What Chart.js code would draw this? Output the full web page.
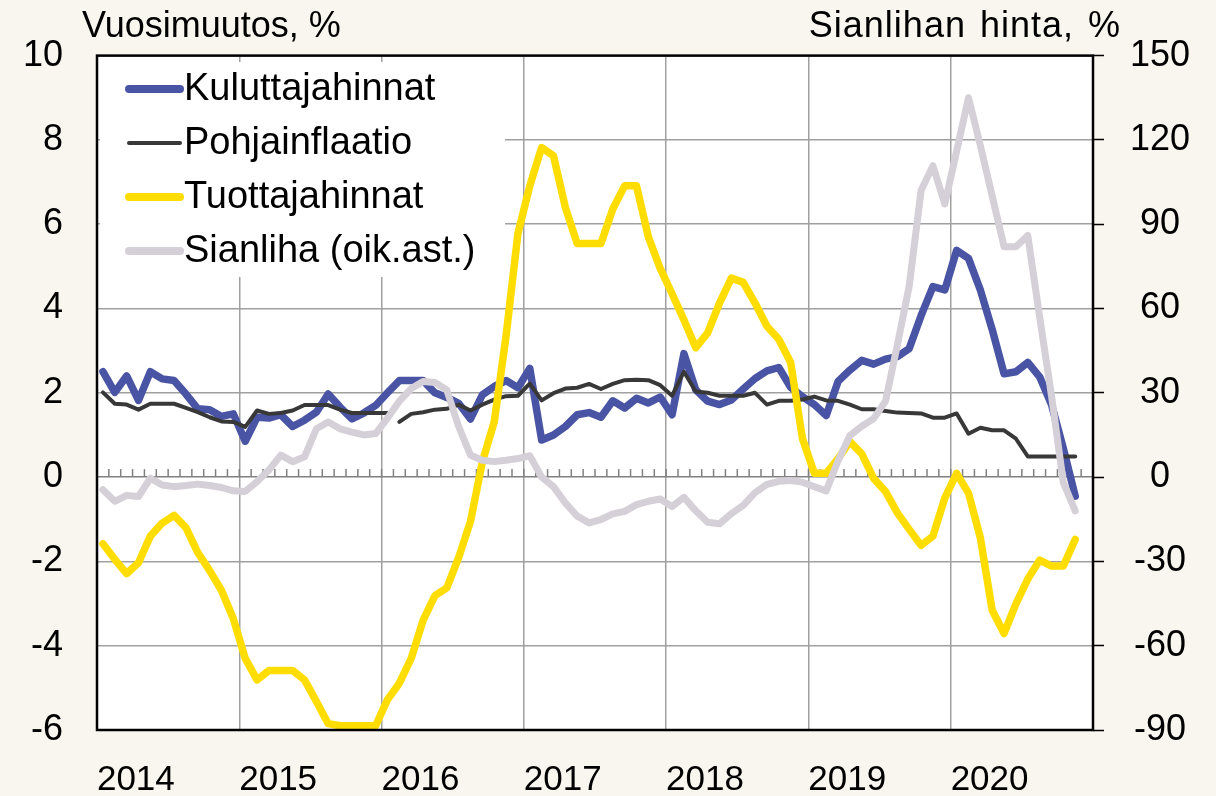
<!DOCTYPE html>
<html><head><meta charset="utf-8">
<script src="https://cdn.jsdelivr.net/npm/chart.js@4/dist/chart.umd.min.js"></script>
<style>html,body{margin:0;padding:0;background:#F9F5EF;overflow:hidden}#wrap{width:1216px;height:796px}</style>
</head><body><div id="wrap"><canvas id="c" width="1216" height="796"></canvas></div>
<script>
// ---- data ----
const years = ['2014','2015','2016','2017','2018','2019','2020'];
const months = [];
years.forEach(y => { for (let m = 1; m <= 12; m++) months.push(y + '-' + String(m).padStart(2, '0')); });

const leftTicks = [-6, -4, -2, 0, 2, 4, 6, 8, 10];
const rightTicks = [-90, -60, -30, 0, 30, 60, 90, 120, 150];

const kuluttajahinnat = [
  2.50, 2.01, 2.40, 1.82, 2.50, 2.33, 2.29, 1.97, 1.62, 1.60, 1.44, 1.50,
  0.85, 1.42, 1.40, 1.48, 1.20, 1.35, 1.54, 1.97, 1.66, 1.38, 1.52, 1.70,
  2.00, 2.29, 2.29, 2.29, 2.00, 1.89, 1.75, 1.38, 1.95, 2.15, 2.29, 2.12,
  2.58, 0.88, 1.00, 1.20, 1.48, 1.53, 1.42, 1.81, 1.64, 1.87, 1.76, 1.90,
  1.48, 2.93, 2.07, 1.80, 1.72, 1.83, 2.09, 2.34, 2.52, 2.60, 2.13, 1.91,
  1.72, 1.46, 2.27, 2.54, 2.77, 2.68, 2.80, 2.86, 3.05, 3.83, 4.52, 4.44,
  5.38, 5.19, 4.44, 3.50, 2.45, 2.50, 2.72, 2.38, 1.72, 0.68, -0.45
];
const pohjainflaatio = [
  2.01, 1.74, 1.72, 1.60, 1.74, 1.74, 1.74, 1.64, 1.54, 1.42, 1.32, 1.31,
  1.19, 1.58, 1.50, 1.52, 1.58, 1.71, 1.71, 1.71, 1.60, 1.52, 1.52, 1.52,
  1.52, 1.31, 1.50, 1.54, 1.60, 1.62, 1.72, 1.58, 1.72, 1.84, 1.92, 1.93,
  2.22, 1.82, 1.99, 2.10, 2.12, 2.21, 2.09, 2.21, 2.30, 2.31, 2.30, 2.18,
  1.93, 2.50, 2.03, 2.00, 1.93, 1.93, 1.93, 2.00, 1.72, 1.81, 1.81, 1.84,
  1.91, 1.82, 1.81, 1.72, 1.61, 1.61, 1.57, 1.53, 1.52, 1.51, 1.41, 1.41,
  1.51, 1.03, 1.17, 1.11, 1.11, 0.91, 0.49, 0.49, 0.49, 0.49, 0.49
];
const tuottajahinnat = [
  -1.58, -1.95, -2.29, -2.03, -1.40, -1.09, -0.91, -1.20, -1.79, -2.22, -2.69, -3.36,
  -4.30, -4.81, -4.59, -4.59, -4.59, -4.81, -5.32, -5.85, -5.90, -5.90, -5.90, -5.90,
  -5.28, -4.89, -4.30, -3.40, -2.81, -2.63, -1.91, -1.05, 0.36, 1.31, 3.35, 5.78,
  6.91, 7.82, 7.62, 6.40, 5.54, 5.54, 5.54, 6.36, 6.91, 6.91, 5.70, 4.95,
  4.35, 3.73, 3.07, 3.42, 4.13, 4.72, 4.62, 4.13, 3.58, 3.27, 2.72, 0.91,
  0.09, 0.09, 0.44, 0.84, 0.55, -0.03, -0.34, -0.85, -1.24, -1.62, -1.40, -0.50,
  0.09, -0.38, -1.44, -3.16, -3.71, -3.01, -2.42, -1.97, -2.11, -2.11, -1.48
];
const sianliha = [
  -4.5, -8.6, -6.5, -6.9, -0.4, -2.8, -3.4, -3.0, -2.5, -3.0, -3.7, -4.9,
  -5.1, -1.6, 2.5, 7.8, 5.5, 7.2, 17.2, 19.6, 17.2, 16.0, 15.0, 15.5,
  21.0, 27.0, 31.5, 34.0, 33.7, 31.0, 18.0, 7.8, 6.0, 5.5, 6.0, 6.6,
  7.6, 0.0, -3.4, -9.2, -13.9, -16.3, -15.1, -13.1, -12.2, -9.8, -8.6, -7.8,
  -10.5, -7.2, -12.0, -16.1, -16.6, -13.0, -10.1, -5.5, -2.6, -1.5, -1.2, -1.8,
  -3.4, -4.9, 5.8, 14.8, 18.1, 20.8, 27.0, 47.0, 68.0, 102.0, 110.8, 97.2,
  116.0, 135.0, 118.0, 100.0, 82.0, 82.0, 86.0, 57.0, 29.0, -2.0, -12.0
];

const leftTitle = 'Vuosimuutos, %';
const rightTitle = 'Sianlihan hinta, %';

// ---- chart ----
const FONT = '"Liberation Sans", Arial, sans-serif';
Chart.defaults.font.family = FONT;
Chart.defaults.color = '#000';

const decor = {
  id: 'decor',
  beforeDraw(chart) {
    const {ctx, chartArea: a} = chart;
    ctx.save();
    ctx.fillStyle = '#ffffff';
    ctx.fillRect(a.left, a.top, a.right - a.left, a.bottom - a.top);
    ctx.restore();
  },
  beforeDatasetsDraw(chart) {
    const {ctx, scales} = chart;
    const xs = scales.x, ys = scales.y;
    const y0 = ys.getPixelForValue(0);
    ctx.save();
    // monthly ticks on the zero line
    ctx.strokeStyle = '#808080';
    ctx.lineWidth = 1.5;
    for (let i = 1; i < months.length; i++) {
      const px = (xs.getPixelForValue(i - 1) + xs.getPixelForValue(i)) / 2;
      ctx.beginPath(); ctx.moveTo(px, y0); ctx.lineTo(px, y0 - 8); ctx.stroke();
    }
    // legend box
    ctx.fillStyle = '#ffffff';
    ctx.fillRect(100, 62, 405, 215);
    const widths = [8, 4, 8, 8];
    chart.data.datasets.forEach((ds, k) => {
      const yy = 89 + 54 * k;
      ctx.strokeStyle = ds.borderColor;
      ctx.lineWidth = widths[k];
      ctx.lineCap = 'round';
      ctx.beginPath(); ctx.moveTo(129, yy); ctx.lineTo(180, yy); ctx.stroke();
      ctx.fillStyle = '#000';
      ctx.font = '38px ' + FONT;
      ctx.textAlign = 'left';
      ctx.textBaseline = 'middle';
      ctx.fillText(ds.label, 184, yy + 1);
    });
    ctx.restore();
  },
  afterDatasetsDraw(chart) {
    const {ctx, chartArea: a} = chart;
    ctx.save();
    ctx.strokeStyle = '#000';
    ctx.lineWidth = 2.5;
    ctx.strokeRect(a.left, a.top, a.right - a.left, a.bottom - a.top);
    ctx.restore();
  },
  afterDraw(chart) {
    const {ctx} = chart;
    ctx.save();
    ctx.fillStyle = '#000';
    ctx.font = '36px ' + FONT;
    ctx.textBaseline = 'alphabetic';
    ctx.textAlign = 'left';
    ctx.fillText(leftTitle, 82, 37);
    ctx.textAlign = 'right';
    if ('letterSpacing' in ctx) ctx.letterSpacing = '1px';
    if ('wordSpacing' in ctx) ctx.wordSpacing = '3px';
    ctx.fillText(rightTitle, 1121, 37);
    ctx.restore();
  }
};

new Chart(document.getElementById('c'), {
  type: 'line',
  data: {
    labels: months,
    datasets: [
      {label: 'Kuluttajahinnat', data: kuluttajahinnat, borderColor: '#4A54A4', borderWidth: 7.5, yAxisID: 'y', order: 3},
      {label: 'Pohjainflaatio', data: pohjainflaatio, borderColor: '#383838', borderWidth: 4, yAxisID: 'y', order: 2,
        segment: {borderColor: c => c.p0DataIndex === 24 ? 'rgba(0,0,0,0)' : undefined}},
      {label: 'Tuottajahinnat', data: tuottajahinnat, borderColor: '#FFDD00', borderWidth: 7.5, yAxisID: 'y', order: 1},
      {label: 'Sianliha (oik.ast.)', data: sianliha, borderColor: '#D5CFD7', borderWidth: 7, yAxisID: 'y2', order: 0}
    ]
  },
  options: {
    responsive: false,
    animation: false,
    devicePixelRatio: 1,
    layout: {padding: {top: 50, left: 0, right: 0, bottom: 0}},
    elements: {
      point: {radius: 0, hoverRadius: 0},
      line: {tension: 0, borderJoinStyle: 'round', borderCapStyle: 'round', fill: false}
    },
    plugins: {legend: {display: false}, tooltip: {enabled: false}},
    scales: {
      x: {
        type: 'category',
        offset: true,
        grid: {
          offset: true, drawTicks: false, lineWidth: 1.5,
          color: c => (c.index % 12 === 0 && c.index > 0) ? '#a0a0a0' : 'rgba(0,0,0,0)'
        },
        border: {display: false},
        ticks: {
          autoSkip: false, maxRotation: 0, minRotation: 0, align: 'start', labelOffset: -6,
          padding: 29, font: {size: 35}, color: '#000',
          callback: (v, i) => (i % 12 === 0 ? years[i / 12] : '')
        },
        afterFit: s => { s.height = 66; }
      },
      y: {
        position: 'left',
        min: leftTicks[0], max: leftTicks[leftTicks.length - 1],
        afterBuildTicks: s => { s.ticks = leftTicks.map(v => ({value: v})); },
        grid: {drawTicks: false, lineWidth: 1.5, color: c => (c.tick && c.tick.value === 0) ? '#808080' : '#a0a0a0'},
        border: {display: false},
        ticks: {padding: 34, font: {size: 36}, color: '#000'},
        afterFit: s => { s.width = 97; }
      },
      y2: {
        position: 'right',
        min: rightTicks[0], max: rightTicks[rightTicks.length - 1],
        afterBuildTicks: s => { s.ticks = rightTicks.map(v => ({value: v})); },
        grid: {drawOnChartArea: false, drawTicks: true, tickLength: 11, tickWidth: 1.5, tickColor: '#000', color: '#000'},
        border: {display: false},
        ticks: {padding: 26, crossAlign: 'center', font: {size: 36}, color: '#000'},
        afterFit: s => { s.width = 123; }
      }
    }
  },
  plugins: [decor]
});
</script>
</body></html>
